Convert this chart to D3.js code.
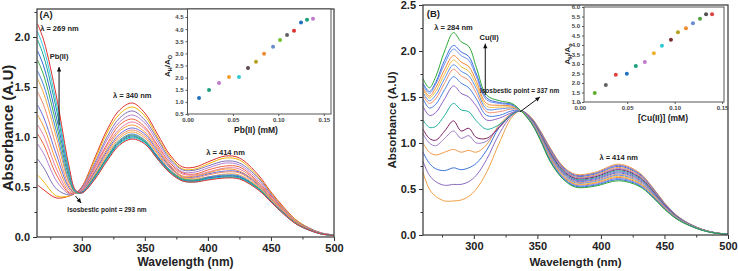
<!DOCTYPE html>
<html>
<head>
<meta charset="utf-8">
<script src="https://cdn.jsdelivr.net/npm/d3@7"></script>
<style>
  body { margin: 0; background: #fff; }
  svg { display: block; font-family: "Liberation Sans", Arial, sans-serif; }
</style>
</head>
<body>
<div id="container"></div>
<script>
/* DATA */
// panel A wavelengths (nm) and spectra, first = no Pb(II), last = highest Pb(II)
const wlA = [265, 270, 280, 290, 295, 300, 310, 320, 330, 340, 350, 360, 370, 380, 390, 400, 414, 425, 440, 450, 460, 470, 480, 490, 500];
const specA = [
  [.52,.47,.39,.41,.44, .50,.78,1.07,1.27,1.34,1.24,1.03,.82,.70,.70,.75,.81,.79,.62,.45,.30,.17,.09,.04,.02],
  [.62,.55,.41,.41,.44, .49,.76,1.04,1.23,1.30,1.21,1.00,.80,.68,.68,.73,.79,.77,.60,.44,.29,.17,.09,.04,.02],
  [.78,.69,.48,.42,.44, .49,.73,1.00,1.19,1.26,1.17,.98,.78,.67,.67,.71,.76,.74,.59,.43,.28,.16,.09,.04,.02],
  [.93,.83,.56,.43,.44, .48,.71,.97,1.15,1.22,1.14,.95,.76,.65,.65,.69,.74,.72,.57,.42,.28,.16,.08,.04,.02],
  [1.03,.92,.62,.44,.44, .47,.69,.93,1.12,1.18,1.10,.92,.74,.64,.63,.67,.71,.70,.55,.41,.27,.15,.08,.035,.018],
  [1.12,1.01,.68,.45,.44, .47,.67,.91,1.08,1.15,1.08,.90,.72,.63,.62,.65,.69,.68,.54,.40,.26,.15,.08,.035,.018],
  [1.22,1.10,.75,.47,.44, .46,.65,.88,1.06,1.12,1.05,.88,.71,.61,.61,.64,.68,.66,.53,.39,.26,.15,.08,.035,.017],
  [1.32,1.19,.82,.49,.44, .46,.64,.86,1.03,1.09,1.03,.86,.70,.60,.60,.63,.66,.65,.52,.38,.25,.14,.076,.033,.017],
  [1.45,1.31,.90,.51,.44, .455,.62,.84,1.01,1.07,1.01,.84,.69,.60,.59,.62,.65,.64,.51,.375,.25,.14,.075,.033,.016],
  [1.58,1.43,.99,.54,.45, .45,.61,.82,.99,1.05,.99,.83,.67,.59,.58,.60,.63,.62,.50,.37,.24,.14,.074,.032,.016],
  [1.66,1.51,1.05,.56,.45, .45,.60,.80,.97,1.03,.97,.81,.67,.58,.57,.60,.62,.61,.49,.36,.24,.135,.073,.032,.016],
  [1.77,1.61,1.12,.59,.45, .445,.60,.79,.96,1.02,.96,.80,.66,.58,.57,.59,.61,.60,.49,.36,.24,.134,.072,.031,.016],
  [1.86,1.70,1.19,.62,.46, .445,.59,.78,.95,1.01,.95,.80,.65,.57,.56,.59,.61,.60,.48,.36,.236,.133,.071,.031,.015],
  [1.97,1.80,1.27,.65,.46, .44,.58,.78,.94,1.00,.95,.79,.65,.57,.56,.58,.60,.59,.48,.355,.234,.132,.071,.03,.015],
  [2.05,1.88,1.33,.67,.46, .44,.58,.77,.93,.99,.94,.78,.645,.56,.55,.575,.595,.585,.475,.352,.232,.131,.07,.03,.015],
  [2.13,1.96,1.40,.70,.47, .44,.57,.76,.92,.98,.93,.78,.64,.56,.55,.57,.59,.58,.47,.35,.23,.13,.07,.03,.015]
];
const colorsA = ["#e0302a","#f2b400","#7f72b8","#b47fd0","#f0643c","#e87aa8","#f59a30","#6a6be0",
                 "#f08a6a","#f7a940","#4a84e0","#3fae49","#2a6ad8","#1aa595","#35c8e0","#e23030"];

// panel B wavelengths (nm) and spectra, first = no Cu(II), last = highest Cu(II)
const wlB = [260, 265, 270, 277, 284, 290, 296, 302, 310, 320, 330, 337, 345, 352, 360, 370, 380, 395, 414, 430, 440, 450, 460, 470, 480, 490, 500];
const specB = [
  [.68,.50,.42,.37,.37,.38,.42,.50,.68,1.00,1.28,1.35, 1.28,1.14,.95,.75,.66,.68,.77,.68,.53,.35,.21,.12,.06,.025,.01],
  [.80,.65,.58,.54,.55,.55,.58,.65,.82,1.10,1.30,1.35, 1.276,1.133,.94,.74,.65,.67,.758,.67,.523,.345,.207,.119,.059,.025,.01],
  [.90,.78,.72,.70,.73,.71,.73,.78,.92,1.17,1.31,1.35, 1.272,1.127,.93,.73,.64,.66,.746,.66,.515,.341,.205,.117,.059,.024,.01],
  [1.00,.90,.87,.90,.93,.90,.92,.90,.98,1.20,1.32,1.35, 1.268,1.12,.92,.72,.63,.65,.734,.65,.508,.336,.202,.116,.058,.024,.01],
  [1.10,1.00,.97,1.05,1.13,1.05,1.08,1.00,1.02,1.18,1.32,1.35, 1.264,1.113,.91,.713,.623,.64,.722,.64,.50,.331,.199,.115,.057,.024,.009],
  [1.15,1.05,1.03,1.13,1.24,1.13,1.16,1.06,1.05,1.17,1.31,1.35, 1.26,1.107,.90,.703,.613,.63,.71,.63,.493,.327,.197,.113,.057,.023,.009],
  [1.25,1.17,1.18,1.30,1.43,1.36,1.34,1.24,1.15,1.20,1.31,1.35, 1.256,1.10,.89,.694,.604,.62,.698,.62,.486,.322,.194,.112,.056,.023,.009],
  [1.40,1.30,1.33,1.48,1.62,1.54,1.50,1.40,1.25,1.27,1.33,1.35, 1.252,1.093,.88,.685,.595,.61,.686,.61,.479,.317,.191,.111,.055,.023,.009],
  [1.48,1.38,1.42,1.58,1.72,1.65,1.60,1.48,1.30,1.30,1.35,1.35, 1.248,1.087,.87,.675,.585,.60,.674,.60,.471,.313,.189,.109,.055,.022,.009],
  [1.52,1.43,1.48,1.65,1.80,1.73,1.68,1.54,1.34,1.34,1.37,1.35, 1.244,1.08,.86,.666,.576,.59,.662,.59,.464,.308,.186,.108,.054,.022,.009],
  [1.55,1.46,1.52,1.70,1.85,1.78,1.73,1.59,1.37,1.37,1.38,1.35, 1.24,1.073,.85,.657,.567,.58,.65,.58,.457,.303,.183,.107,.053,.022,.009],
  [1.58,1.49,1.56,1.75,1.90,1.83,1.78,1.63,1.40,1.39,1.39,1.35, 1.236,1.067,.84,.647,.557,.57,.638,.57,.449,.299,.181,.105,.053,.021,.009],
  [1.60,1.51,1.60,1.80,1.95,1.88,1.83,1.67,1.43,1.41,1.40,1.35, 1.232,1.06,.83,.638,.548,.56,.626,.56,.442,.294,.178,.104,.052,.021,.008],
  [1.63,1.54,1.64,1.86,2.02,1.95,1.90,1.72,1.47,1.43,1.41,1.35, 1.228,1.053,.82,.629,.539,.55,.614,.55,.435,.289,.175,.103,.051,.021,.008],
  [1.65,1.56,1.66,1.90,2.06,1.99,1.94,1.75,1.49,1.44,1.42,1.35, 1.224,1.047,.81,.619,.529,.54,.602,.54,.427,.285,.173,.101,.051,.02,.008],
  [1.70,1.60,1.72,2.00,2.20,2.10,2.05,1.82,1.52,1.46,1.43,1.35, 1.22,1.04,.80,.61,.52,.53,.59,.53,.42,.28,.17,.10,.05,.02,.008]
];
const colorsB = ["#f0a045","#8a6cc0","#3c74dc","#f2994a","#a07cc8","#7b2060","#22b0a0","#8e64c4",
                 "#4a80e4","#f2906e","#5a8ef0","#f2c040","#f5873a","#7090f0","#3a6ee0","#2ea836"];

// insets: A_H/A_O vs metal concentration (mM)
const insetAx = [.0127,.0237,.0347,.0457,.0567,.0666,.0754,.0843,.0942,.1019,.1096,.1173,.125,.1316,.1382];
const insetAy = [1.16,1.49,1.78,2.03,2.03,2.40,2.65,2.98,3.27,3.55,3.76,3.93,4.27,4.39,4.43];
const insetAcol = ["#1f6fc0","#1aa07a","#c07ac8","#f0a030","#30c8d0","#5a4a4a","#b8a020","#f08a30",
                   "#6a8ad0","#70c030","#606060","#e03030","#1f6fc0","#1aa07a","#c07ac8"];
const insetBx = [.0158,.0275,.038,.0496,.0591,.0686,.0781,.0866,.0961,.1035,.1119,.1193,.1267,.1331,.1394];
const insetBy = [1.48,1.90,2.44,2.49,2.90,3.10,3.56,3.96,4.28,4.67,4.88,5.15,5.38,5.62,5.62];
const insetBcol = ["#60b030","#606060","#e04040","#1f6fc0","#1aa07a","#c07ac8","#f0b030","#30c8d0",
                   "#7a3030","#b8a020","#f08a30","#6a8ad0","#50a040","#505050","#e04040"];

const xTicks = [300, 350, 400, 450, 500];
const insetXTicks = [0, 0.05, 0.10, 0.15];

/* SVG */
const width = 738, height = 271;
const svg = d3.select("#container").append("svg")
  .attr("width", width).attr("height", height);

const ink = "#222";

function panel(o) {
  const x = d3.scaleLinear().domain(o.xDomain).range(o.xRange);
  const y = d3.scaleLinear().domain(o.yDomain).range(o.yRange);
  const g = svg.append("g");

  // spectra
  const line = d3.line().curve(d3.curveCatmullRom.alpha(0.5))
    .x(d => x(d[0])).y(d => y(d[1]));
  o.spec.forEach((s, i) => {
    g.append("path")
      .attr("d", line(o.wl.map((w, j) => [w, s[j]])))
      .attr("fill", "none")
      .attr("stroke", o.colors[i])
      .attr("stroke-width", 1);
  });

  // minor ticks
  g.append("g").attr("transform", `translate(0,${o.yRange[0]})`)
    .call(d3.axisBottom(x).tickValues(d3.range(275, 500, 50)).tickSize(2.5).tickFormat(""))
    .call(s => s.select(".domain").remove());
  g.append("g").attr("transform", `translate(${o.xRange[0]},0)`)
    .call(d3.axisLeft(y).tickValues(d3.range(0.25, o.yDomain[1], 0.5)).tickSize(2.5).tickFormat(""))
    .call(s => s.select(".domain").remove());

  // major axes
  const xa = g.append("g").attr("transform", `translate(0,${o.yRange[0]})`)
    .call(d3.axisBottom(x).tickValues(xTicks).tickSize(4).tickPadding(3));
  const ya = g.append("g").attr("transform", `translate(${o.xRange[0]},0)`)
    .call(d3.axisLeft(y).tickValues(d3.range(0, o.yDomain[1] + 0.01, 0.5)).tickSize(4).tickPadding(3).tickFormat(d3.format(".1f")));
  [xa, ya].forEach(a => {
    a.selectAll("text").attr("font-size", 11).attr("font-weight", "bold").attr("fill", ink)
      .attr("font-family", "Liberation Sans, Arial, sans-serif");
    a.select(".domain").remove();
  });
  g.selectAll(".tick line").attr("stroke", "#333");

  // frame
  g.append("rect")
    .attr("x", o.xRange[0]).attr("y", o.yRange[1])
    .attr("width", o.xRange[1] - o.xRange[0]).attr("height", o.yRange[0] - o.yRange[1])
    .attr("fill", "none").attr("stroke", "#444").attr("stroke-width", 1.3);

  // axis titles
  g.append("text")
    .attr("x", (o.xRange[0] + o.xRange[1]) / 2).attr("y", 266)
    .attr("text-anchor", "middle").attr("font-size", o.xtSize).attr("font-weight", "bold").attr("fill", ink)
    .text("Wavelength (nm)");
  g.append("text")
    .attr("transform", `translate(${o.ytX},${o.ytY}) rotate(-90)`)
    .attr("text-anchor", "middle").attr("font-size", o.ytSize).attr("font-weight", "bold").attr("fill", ink)
    .text("Absorbance (A.U)");

  return { g, x, y };
}

function inset(o) {
  const x = d3.scaleLinear().domain(o.xDomain).range(o.xRange);
  const y = d3.scaleLinear().domain(o.yDomain).range(o.yRange);
  const g = svg.append("g");
  g.append("rect")
    .attr("x", o.xRange[0]).attr("y", o.yRange[1])
    .attr("width", o.xRange[1] - o.xRange[0]).attr("height", o.yRange[0] - o.yRange[1])
    .attr("fill", "#fff").attr("stroke", "#555").attr("stroke-width", 1);
  const xa = g.append("g").attr("transform", `translate(0,${o.yRange[0]})`)
    .call(d3.axisBottom(x).tickValues(insetXTicks).tickSize(2).tickPadding(2).tickFormat(d3.format(".2f")));
  const ya = g.append("g").attr("transform", `translate(${o.xRange[0]},0)`)
    .call(d3.axisLeft(y).tickValues(o.yTicks).tickSize(2).tickPadding(2).tickFormat(d3.format(".1f")));
  [xa, ya].forEach(a => {
    a.select(".domain").remove();
    a.selectAll("text").attr("font-size", 6).attr("font-weight", "bold").attr("fill", "#444")
      .attr("font-family", "Liberation Sans, Arial, sans-serif");
    a.selectAll("line").attr("stroke", "#555");
  });
  g.selectAll("circle.pt")
    .data(o.xs.map((v, i) => ({ x: v, y: o.ys[i], c: o.cols[i] })))
    .join("circle")
    .attr("class", "pt")
    .attr("cx", d => x(d.x)).attr("cy", d => y(d.y))
    .attr("r", 2).attr("fill", d => d.c);
  g.append("text")
    .attr("x", o.xtX).attr("y", o.xtY)
    .attr("text-anchor", "middle").attr("font-size", 8.5).attr("font-weight", "bold").attr("fill", ink)
    .text(o.xTitle);
  const yt = g.append("text")
    .attr("transform", `translate(${o.ytX},${o.ytY}) rotate(-90)`)
    .attr("text-anchor", "middle").attr("font-size", 8).attr("font-weight", "bold").attr("fill", ink);
  yt.append("tspan").text("A");
  yt.append("tspan").attr("font-size", 5.5).attr("dy", 1.5).text("H");
  yt.append("tspan").attr("dy", -1.5).text("/A");
  yt.append("tspan").attr("font-size", 5.5).attr("dy", 1.5).text(o.sub);
}

function note(g, x, y, txt, size, anchor) {
  g.append("text").attr("x", x).attr("y", y)
    .attr("text-anchor", anchor || "middle").attr("font-size", size)
    .attr("font-weight", "bold").attr("fill", ink).text(txt);
}

function arrow(g, x1, y1, x2, y2) {
  g.append("line").attr("x1", x1).attr("y1", y1).attr("x2", x2).attr("y2", y2)
    .attr("stroke", "#111").attr("stroke-width", 1);
  const a = Math.atan2(y2 - y1, x2 - x1), L = 4.5, W = 2.2;
  const p = [[x2, y2],
    [x2 - L * Math.cos(a) + W * Math.sin(a), y2 - L * Math.sin(a) - W * Math.cos(a)],
    [x2 - L * Math.cos(a) - W * Math.sin(a), y2 - L * Math.sin(a) + W * Math.cos(a)]];
  g.append("path").attr("d", d3.line()(p) + "Z").attr("fill", "#111");
}

/* PANEL A */
const A = panel({
  wl: wlA, spec: specA, colors: colorsA,
  xDomain: [264.5, 500], xRange: [37, 334],
  yDomain: [0, 2.28], yRange: [237, 9],
  xtSize: 12, ytSize: 15, ytX: 13, ytY: 128
});
note(A.g, A.x(266.5), A.y(2.19), "(A)", 9.5, "start");
note(A.g, A.x(267), A.y(2.06), "λ = 269 nm", 7.5, "start");
note(A.g, A.x(282), A.y(1.78), "Pb(II)", 7.5);
arrow(A.g, A.x(282), A.y(1.12), A.x(282), A.y(1.7));
note(A.g, A.x(340), A.y(1.39), "λ = 340 nm", 7.5);
note(A.g, A.x(414), A.y(0.82), "λ = 414 nm", 7.5);
note(A.g, A.x(320), A.y(0.25), "Isosbestic point = 293 nm", 6.5);
arrow(A.g, A.x(295), A.y(0.41), A.x(299.5), A.y(0.34));

inset({
  xDomain: [0, 0.158], xRange: [187.5, 331],
  yDomain: [0.5, 4.83], yRange: [114, 9],
  yTicks: d3.range(0.5, 4.51, 0.5),
  xs: insetAx, ys: insetAy, cols: insetAcol,
  xTitle: "Pb(II) (mM)", xtX: 256, xtY: 133,
  sub: "O", ytX: 170, ytY: 66
});

/* PANEL B */
const B = panel({
  wl: wlB, spec: specB, colors: colorsB,
  xDomain: [260, 500], xRange: [423, 728],
  yDomain: [0, 2.5], yRange: [235, 5],
  xtSize: 11.5, ytSize: 11.5, ytX: 396, ytY: 120
});
note(B.g, B.x(263), B.y(2.37), "(B)", 9.5, "start");
note(B.g, B.x(284), B.y(2.23), "λ = 284 nm", 7.5);
note(B.g, B.x(312), B.y(2.12), "Cu(II)", 7.5);
arrow(B.g, B.x(309), B.y(1.52), B.x(309), B.y(2.08));
note(B.g, B.x(336), B.y(1.54), "Isosbestic point = 337 nm", 6.5);
arrow(B.g, B.x(336.5), B.y(1.34), B.x(352), B.y(1.5));
note(B.g, B.x(414), B.y(0.82), "λ = 414 nm", 7.5);

inset({
  xDomain: [0.0045, 0.152], xRange: [584, 724],
  yDomain: [1.0, 6.0], yRange: [102, 7],
  yTicks: d3.range(1.0, 6.01, 0.5),
  xs: insetBx, ys: insetBy, cols: insetBcol,
  xTitle: "[Cu(II)] (mM)", xtX: 663, xtY: 121,
  sub: "o", ytX: 570, ytY: 54
});
</script>
</body>
</html>
